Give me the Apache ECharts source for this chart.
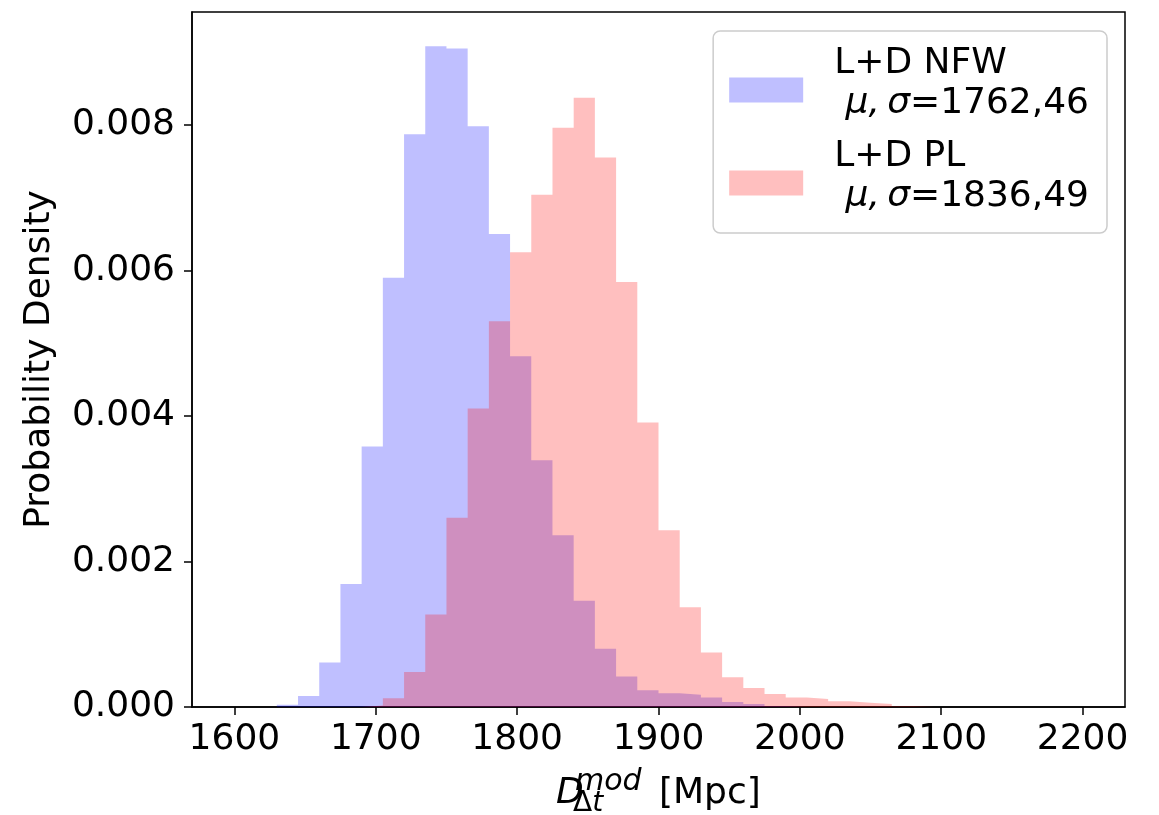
<!DOCTYPE html>
<html>
<head>
<meta charset="utf-8">
<script src="https://cdn.jsdelivr.net/npm/echarts@6/dist/echarts.min.js"></script>
<style>
  html, body { margin: 0; padding: 0; background: #fff; }
  #chart { width: 1159px; height: 815px; }
</style>
</head>
<body>
<div id="chart"></div>
<script>
  // histogram bins (left edges), width 15 Mpc, last edge 2200
  var binLefts = [1600, 1615, 1630, 1645, 1660, 1675, 1690, 1705, 1720, 1735,
                  1750, 1765, 1780, 1795, 1810, 1825, 1840, 1855, 1870, 1885,
                  1900, 1915, 1930, 1945, 1960, 1975, 1990, 2005, 2020, 2035,
                  2050, 2065, 2080, 2095, 2110, 2125, 2140, 2155, 2170, 2185];
  var binRight = 2200;

  // L+D NFW
  var nfwDensity = [0, 0, 0.00003, 0.00015, 0.00061, 0.00169, 0.00358, 0.00590, 0.00787, 0.00908,
                    0.00905, 0.00798, 0.00650, 0.00482, 0.00339, 0.00236, 0.00146, 0.00080, 0.00042, 0.00023,
                    0.00019, 0.00017, 0.00013, 0.00007, 0.00004, 0.00001, 0, 0, 0, 0,
                    0, 0, 0, 0, 0, 0, 0, 0, 0, 0];
  // L+D PL
  var plDensity = [0, 0, 0, 0, 0, 0, 0.00002, 0.00012, 0.00048, 0.00127,
                   0.00260, 0.00410, 0.00530, 0.00625, 0.00704, 0.00796, 0.00837, 0.00755, 0.00584, 0.00391,
                   0.00243, 0.00137, 0.00075, 0.00041, 0.00026, 0.00018, 0.00013, 0.00011, 0.00008, 0.00006,
                   0.00004, 0.00001, 0, 0, 0, 0, 0, 0, 0, 0];

  var xTicks = [1600, 1700, 1800, 1900, 2000, 2100, 2200];
  var yTicks = [0, 0.002, 0.004, 0.006, 0.008];

  var font = 'DejaVu Sans';
  var fs = 36;

  function stepData(vals) {
    var d = binLefts.map(function (x, i) { return [x, vals[i]]; });
    d.push([binRight, 0]);
    return d;
  }

  function histSeries(name, color, vals) {
    return {
      name: name,
      type: 'line',
      step: 'end',
      showSymbol: false,
      silent: true,
      data: stepData(vals),
      itemStyle: { color: color },
      lineStyle: { width: 0 },
      areaStyle: { color: color, opacity: 1 },
      emphasis: { disabled: true }
    };
  }

  var myChart = echarts.init(document.getElementById('chart'));

  var option = {
    animation: false,
    grid: {
      left: 192, right: 34, top: 12, bottom: 108,
      show: true,
      borderColor: '#000',
      borderWidth: 1.5
    },
    legend: {
      orient: 'vertical',
      right: 52,
      top: 31,
      padding: [15, 18, 18, 16],
      itemWidth: 74,
      itemHeight: 25,
      itemGap: 17,
      icon: 'rect',
      borderColor: '#cccccc',
      borderWidth: 1.5,
      borderRadius: 7,
      backgroundColor: '#fff',
      selectedMode: false,
      data: [
        { name: 'nfw', itemStyle: { color: 'rgba(0,0,255,0.25)', borderWidth: 0 } },
        { name: 'pl', itemStyle: { color: 'rgba(255,0,0,0.25)', borderWidth: 0 } }
      ],
      formatter: function (name) {
        if (name === 'nfw') {
          return '{t|L+D NFW}\n{t| }{m|μ,\u2009σ}{t|=1762,46}';
        }
        return '{t|L+D PL}\n{t| }{m|μ,\u2009σ}{t|=1836,49}';
      },
      textStyle: {
        padding: [0, 0, 12, 26],
        rich: {
          t: { fontFamily: font, fontSize: fs, color: '#000', lineHeight: 40 },
          m: { fontFamily: font, fontSize: fs, fontStyle: 'italic', color: '#000', lineHeight: 40 }
        }
      }
    },
    xAxis: {
      type: 'value',
      min: 1570,
      max: 2230,
      axisLine: { lineStyle: { color: '#000', width: 1.5 } },
      axisTick: { show: true, inside: false, length: 8, lineStyle: { color: '#000', width: 1.5 }, customValues: xTicks },
      axisLabel: {
        customValues: xTicks,
        fontFamily: font, fontSize: fs, color: '#000', margin: 15,
        formatter: function (v) { return String(v); }
      },
      splitLine: { show: false }
    },
    yAxis: {
      type: 'value',
      min: 0,
      max: 0.00955,
      name: 'Probability Density',
      nameLocation: 'middle',
      nameGap: 134,
      nameTextStyle: { fontFamily: font, fontSize: fs, color: '#000' },
      axisLine: { show: true, lineStyle: { color: '#000', width: 1.5 } },
      axisTick: { show: true, inside: false, length: 8, lineStyle: { color: '#000', width: 1.5 }, customValues: yTicks },
      axisLabel: {
        customValues: yTicks,
        fontFamily: font, fontSize: fs, color: '#000', margin: 17,
        formatter: function (v) { return v.toFixed(3); }
      },
      splitLine: { show: false }
    },
    graphic: [
      {
        type: 'group',
        silent: true,
        children: [
          { type: 'text', x: 556, y: 794, style: { text: 'D', font: 'italic 36px "DejaVu Sans"', fill: '#000', verticalAlign: 'middle' } },
          { type: 'text', x: 575, y: 782, style: { text: 'mod', font: 'italic 30px "DejaVu Sans"', fill: '#000', verticalAlign: 'middle' } },
          { type: 'text', x: 573, y: 804, style: {
              text: '{n|Δ}{i|t}', verticalAlign: 'middle',
              rich: {
                n: { fontFamily: font, fontSize: 28, fill: '#000' },
                i: { fontFamily: font, fontSize: 28, fontStyle: 'italic', fill: '#000' }
              }
            } },
          { type: 'text', x: 659, y: 794, style: { text: '[Mpc]', font: '36px "DejaVu Sans"', fill: '#000', verticalAlign: 'middle' } }
        ]
      }
    ],
    series: [
      histSeries('nfw', 'rgba(0,0,255,0.25)', nfwDensity),
      histSeries('pl', 'rgba(255,0,0,0.25)', plDensity)
    ]
  };

  myChart.setOption(option);
</script>
</body>
</html>
